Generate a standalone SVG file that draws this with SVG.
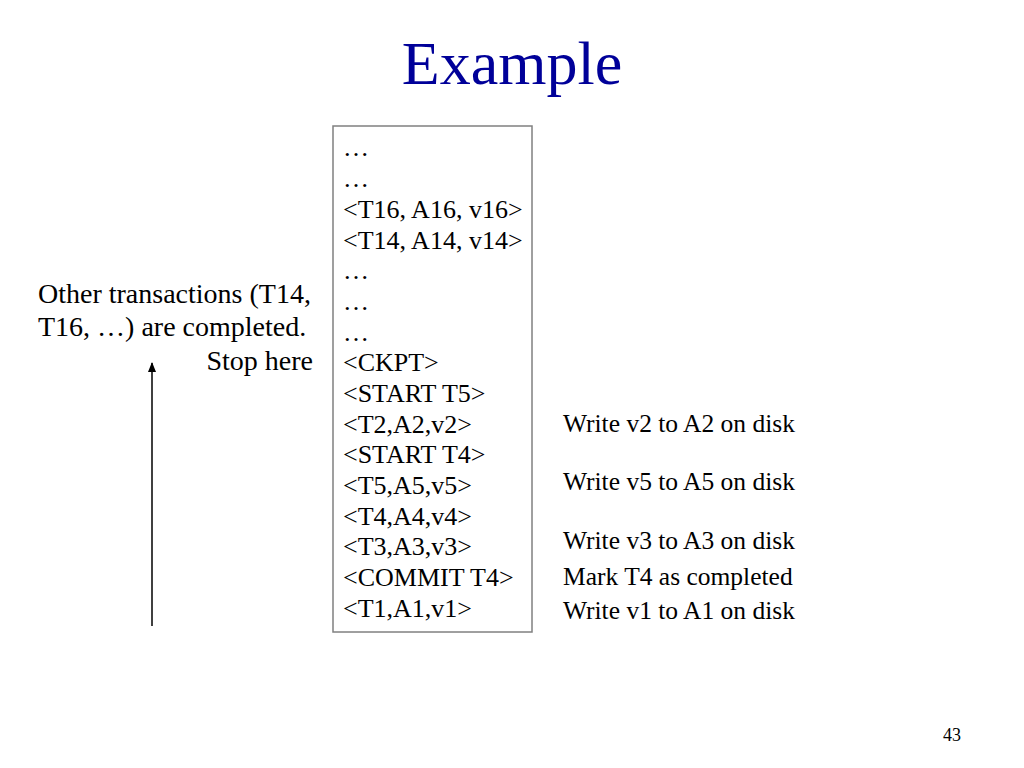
<svg xmlns="http://www.w3.org/2000/svg" width="1024" height="768" viewBox="0 0 1024 768">
<defs>
<style>
text{font-family:"Liberation Serif","Times New Roman",serif;fill:#000}
.b{font-size:26px}
.n{font-size:25.5px}
.l{font-size:28px}
.title{font-size:62px;fill:#000099}
.pg{font-size:18px}
</style>
<marker id="ah" markerWidth="10" markerHeight="8" refX="9" refY="4" orient="auto" markerUnits="userSpaceOnUse" viewBox="0 0 10 8">
<path d="M0,0 L10,4 L0,8 Z" fill="#000"/>
</marker>
</defs>
<rect width="1024" height="768" fill="#fff"/>
<text class="title" x="512" y="84" text-anchor="middle">Example</text>
<g id="log">
<rect x="333" y="126" width="199" height="506" fill="#fff" stroke="#808080" stroke-width="1.5"/>
<text class="b" x="343" y="156">…</text>
<text class="b" x="343" y="187">…</text>
<text class="b" x="343" y="218">&lt;T16, A16, v16&gt;</text>
<text class="b" x="343" y="249">&lt;T14, A14, v14&gt;</text>
<text class="b" x="343" y="279">…</text>
<text class="b" x="343" y="310">…</text>
<text class="b" x="343" y="341">…</text>
<text class="b" x="343" y="371">&lt;CKPT&gt;</text>
<text class="b" x="343" y="402">&lt;START T5&gt;</text>
<text class="b" x="343" y="433">&lt;T2,A2,v2&gt;</text>
<text class="b" x="343" y="463">&lt;START T4&gt;</text>
<text class="b" x="343" y="494">&lt;T5,A5,v5&gt;</text>
<text class="b" x="343" y="525">&lt;T4,A4,v4&gt;</text>
<text class="b" x="343" y="555">&lt;T3,A3,v3&gt;</text>
<text class="b" x="343" y="586">&lt;COMMIT T4&gt;</text>
<text class="b" x="343" y="617">&lt;T1,A1,v1&gt;</text>
</g>
<g id="notes">
<text class="n" x="563" y="432">Write v2 to A2 on disk</text>
<text class="n" x="563" y="490">Write v5 to A5 on disk</text>
<text class="n" x="563" y="549">Write v3 to A3 on disk</text>
<text class="n" x="563" y="585">Mark T4 as completed</text>
<text class="n" x="563" y="619">Write v1 to A1 on disk</text>
</g>
<g id="left-note">
<text class="l" x="38" y="303">Other transactions (T14,</text>
<text class="l" x="38" y="336">T16, …) are completed.</text>
<text class="l" x="313" y="370" text-anchor="end">Stop here</text>
</g>
<g id="connectors">
<line x1="152" y1="626" x2="152" y2="363" stroke="#000" stroke-width="1.5" marker-end="url(#ah)"/>
</g>
<text class="pg" x="952" y="741" text-anchor="middle">43</text>
</svg>
